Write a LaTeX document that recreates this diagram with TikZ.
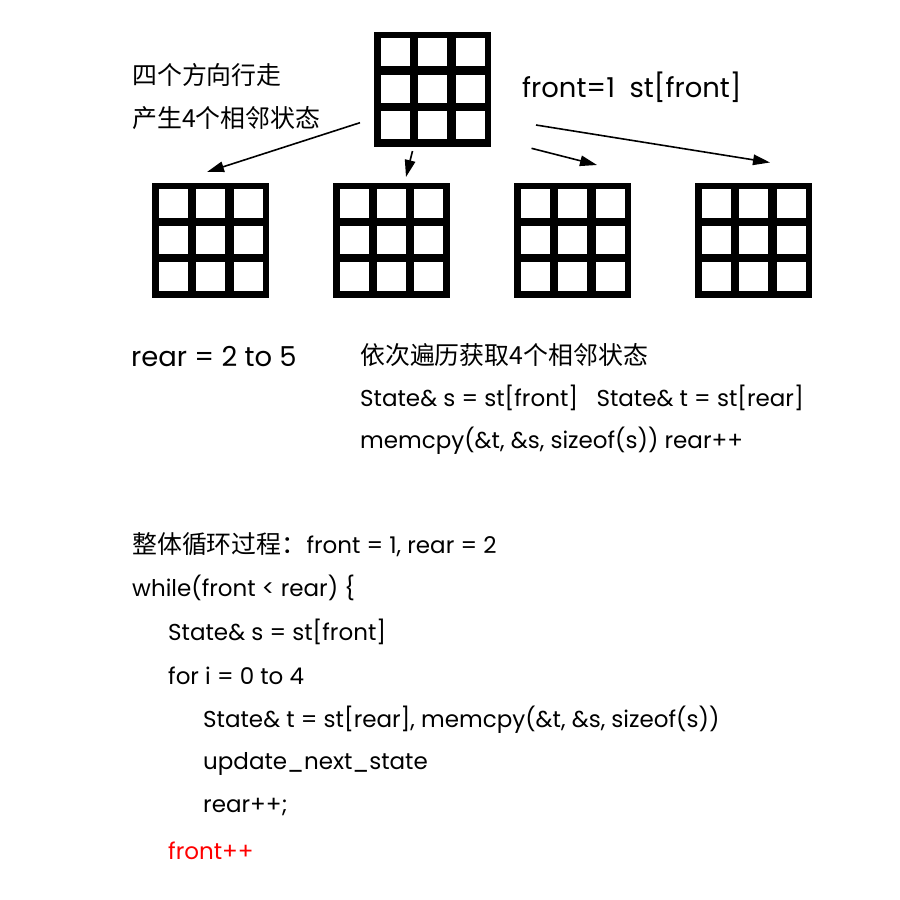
\documentclass[tikz,border=0pt]{standalone}
\usepackage{fontspec}
\setmainfont{Poppins}
\newfontfamily\cjk{Noto Sans CJK SC}
\usetikzlibrary{calc,arrows.meta}
\tikzset{
  cellgrid/.style={fill=black, draw=none, minimum width=117pt, minimum height=115pt, inner sep=0pt, outer sep=0pt},
  txt/.style={anchor=west, inner sep=0pt, font=\fontsize{23}{26}\selectfont},
  bigtxt/.style={anchor=west, inner sep=0pt, font=\fontsize{27.4}{30}\selectfont},
  cjktxt/.style={anchor=west, inner sep=0pt, font=\cjk\fontsize{24.9}{28}\selectfont},
  arr/.style={line width=1.6pt, -{Triangle[length=17pt,width=10.5pt]}}
}
\newcommand\gridat[3]{%
  \node[cellgrid] (#1) at (#2,#3) {};
  \foreach \i in {0,1,2}{\foreach \j in {0,1,2}{%
    \fill[white] ($(#1.north west)+(7+\i*37.4,6+\j*36.5)$) rectangle +(29,28.3);}}%
}
\begin{document}
\begin{tikzpicture}[x=1pt,y=-1pt]
\useasboundingbox[fill=white] (0,0) rectangle (900,900);
\gridat{g0}{432.5}{89.5}
\gridat{g1}{210.5}{240.8}
\gridat{g2}{391}{240.8}
\gridat{g3}{572.5}{240.8}
\gridat{g4}{753.3}{240.8}
% arrow endpoints
\coordinate (a1s) at (360,122.7);
\coordinate (a1e) at (207,172);
\coordinate (a2s) at (412.5,151);
\coordinate (a2e) at (406,177);
\coordinate (a3s) at (531.5,148.3);
\coordinate (a3e) at (597,165);
\coordinate (a4s) at (536,125);
\coordinate (a4e) at (770,162.5);
\draw[arr] (a1s) -- (a1e);
\draw[arr] (a2s) -- (a2e);
\draw[arr] (a3s) -- (a3e);
\draw[arr] (a4s) -- (a4e);
% texts
\node[cjktxt] (t1) at (132,75) {四个方向行走};
\node[cjktxt] (t2) at (132,118) {产生4个相邻状态};
\node[bigtxt] (t3) at (522,87) {front=1\ \ st[front]};
\node[bigtxt] (t4) at (131,357) {rear = 2 to 5};
\node[cjktxt] (t5) at (360,355) {依次遍历获取4个相邻状态};
\node[txt] (t6) at (360,398) {State\& s = st[front]\ \ \ State\& t = st[rear]};
\node[txt] (t7) at (360,441) {memcpy(\&t, \&s, sizeof(s)) rear++};
\node[txt] (t8) at (132,545) {{\cjk\fontsize{24.9}{28}\selectfont 整体循环过程：}front = 1, rear = 2};
\node[txt] (t9) at (132,588) {while(front < rear) \{};
\node[txt] (t10) at (168,632) {State\& s = st[front]};
\node[txt] (t11) at (168,676) {for i = 0 to 4};
\node[txt] (t12) at (203,720) {State\& t = st[rear], memcpy(\&t, \&s, sizeof(s))};
\node[txt] (t13) at (203,764) {update\_next\_state};
\node[txt] (t14) at (203,807) {rear++;};
\node[txt, text=red] (t15) at (168,851) {front++};
\end{tikzpicture}
\end{document}
